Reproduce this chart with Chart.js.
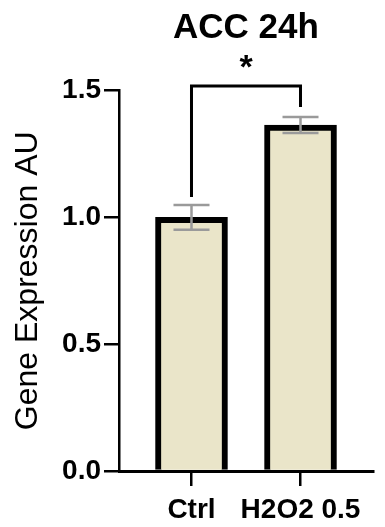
<!DOCTYPE html>
<html>
<head>
<meta charset="utf-8">
<style>
html,body{margin:0;padding:0;background:#fff;}
canvas{display:block;}
</style>
<script src="https://cdn.jsdelivr.net/npm/chart.js@4/dist/chart.umd.min.js"></script>
</head>
<body>
<canvas id="c" width="385" height="527"></canvas>
<script>
// ---- data ----
const categories = ['Ctrl', 'H2O2 0.5'];
const means = [1.0, 1.364];
const errors = [0.049, 0.032];
const yTicks = [0, 0.5, 1.0, 1.5];
const chartTitle = 'ACC 24h';
const yAxisTitle = 'Gene Expression AU';
// significance bracket: [fromIndex, toIndex], top value, leg ends
const sigPair = [0, 1];
const sigTop = 1.518;
const sigLegEnds = [1.08, 1.435];
const sigLabel = '*';
const sigLabelY = 1.62;

const FONT = "'Liberation Sans', Arial, Helvetica, sans-serif";

const errorBarPlugin = {
  id: 'errorBars',
  afterDatasetsDraw(chart) {
    const {ctx, scales: {x, y}} = chart;
    ctx.save();
    ctx.strokeStyle = '#9a9a9a';
    ctx.lineWidth = 2.5;
    const half = 18;
    means.forEach((m, i) => {
      const px = x.getPixelForValue(i);
      const yt = y.getPixelForValue(m + errors[i]);
      const yb = y.getPixelForValue(m - errors[i]);
      ctx.beginPath();
      ctx.moveTo(px, yt); ctx.lineTo(px, yb);
      ctx.moveTo(px - half, yt); ctx.lineTo(px + half, yt);
      ctx.moveTo(px - half, yb); ctx.lineTo(px + half, yb);
      ctx.stroke();
    });
    // significance bracket
    const x1 = x.getPixelForValue(sigPair[0]);
    const x2 = x.getPixelForValue(sigPair[1]);
    const yTop = y.getPixelForValue(sigTop);
    ctx.strokeStyle = '#000';
    ctx.lineWidth = 3;
    ctx.lineJoin = 'miter';
    ctx.beginPath();
    ctx.moveTo(x1, y.getPixelForValue(sigLegEnds[0]));
    ctx.lineTo(x1, yTop);
    ctx.lineTo(x2, yTop);
    ctx.lineTo(x2, y.getPixelForValue(sigLegEnds[1]));
    ctx.stroke();
    ctx.fillStyle = '#000';
    ctx.font = 'bold 34px ' + FONT;
    ctx.textAlign = 'center';
    ctx.textBaseline = 'alphabetic';
    ctx.fillText(sigLabel, (x1 + x2) / 2, y.getPixelForValue(sigLabelY) + 18);
    ctx.restore();
  }
};

new Chart(document.getElementById('c'), {
  type: 'bar',
  data: {
    datasets: [{
      data: categories.map((c, i) => ({x: i, y: means[i]})),
      backgroundColor: '#EAE5C9',
      borderColor: '#000',
      borderWidth: 6,
      barThickness: 72
    }]
  },
  options: {
    responsive: false,
    devicePixelRatio: 1,
    animation: false,
    layout: {padding: {left: 0, right: 12, top: 0, bottom: 0}},
    plugins: {
      legend: {display: false},
      tooltip: {enabled: false},
      title: {
        display: true,
        text: chartTitle,
        fullSize: false,
        color: '#000',
        font: {family: FONT, size: 35, weight: 'bold', lineHeight: 1.2},
        padding: {top: 7, bottom: 41.5}
      }
    },
    scales: {
      x: {
        type: 'linear',
        offset: false,
        min: -0.665,
        max: 1.665,
        afterBuildTicks(s) { s.ticks = categories.map((c, i) => ({value: i})); },
        afterFit(s) { s.height = 56; },
        ticks: {
          callback: (v) => categories[v],
          color: '#000',
          font: {family: FONT, size: 28, weight: 'bold'},
          padding: 7,
          maxRotation: 0,
          autoSkip: false
        },
        grid: {display: true, offset: false, drawOnChartArea: false, drawTicks: true, tickLength: 15, color: '#000', lineWidth: 2.5},
        border: {display: true, color: '#000', width: 3}
      },
      y: {
        min: 0,
        max: 1.5,
        afterBuildTicks(s) { s.ticks = yTicks.map(v => ({value: v})); },
        afterFit(s) { s.width = 119; },
        ticks: {
          callback: (v) => v.toFixed(1),
          color: '#000',
          font: {family: FONT, size: 28, weight: 'bold'},
          padding: 3
        },
        grid: {display: true, drawOnChartArea: false, drawTicks: true, tickLength: 15, color: '#000', lineWidth: 2.5},
        border: {display: true, color: '#000', width: 2.5},
        title: {
          display: true,
          text: yAxisTitle,
          color: '#000',
          font: {family: FONT, size: 32, weight: 'normal', lineHeight: 1.2},
          padding: {top: 9, bottom: 0}
        }
      }
    }
  },
  plugins: [errorBarPlugin]
});
</script>
</body>
</html>
